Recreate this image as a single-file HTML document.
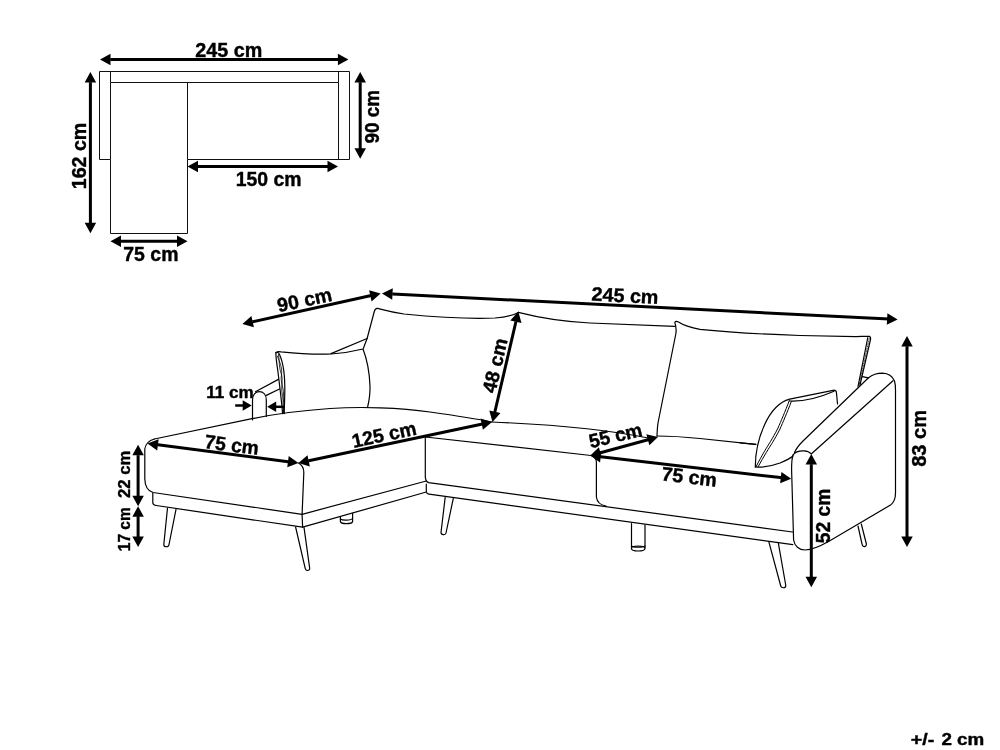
<!DOCTYPE html>
<html><head><meta charset="utf-8"><style>
html,body{margin:0;padding:0;background:#fff;width:1000px;height:750px;overflow:hidden}
svg{display:block;will-change:transform}
text{font-family:"Liberation Sans",sans-serif;font-weight:bold;fill:#000;stroke:#000;stroke-width:0.4px}
</style></head><body>
<svg width="1000" height="750" viewBox="0 0 1000 750">
<g fill="none" stroke="#111" stroke-width="1.0">
<path d="M99.5,71.5 H349.5 V159.5 H187.5 V233.5 H110.5 V159.5 H99.5 Z"/>
<path d="M110.5,159.5 V82.5 H338.5 V159.5 M338.5,82.5 V71.5 M110.5,82.5 V71.5 M187.5,82.5 V159.5"/>
</g>
<line x1="110.50" y1="59.60" x2="339.90" y2="59.60" stroke="#000" stroke-width="3.0"/>
<line x1="108.50" y1="59.60" x2="110.50" y2="59.60" stroke="#000" stroke-width="3.0"/>
<path d="M348.40,59.60 L337.90,65.35 L337.90,53.85 Z M100.00,59.60 L110.50,53.85 L110.50,65.35 Z" fill="#000"/>
<line x1="90.40" y1="82.50" x2="90.40" y2="224.70" stroke="#000" stroke-width="3.0"/>
<line x1="90.40" y1="80.50" x2="90.40" y2="82.50" stroke="#000" stroke-width="3.0"/>
<path d="M90.40,233.20 L84.65,222.70 L96.15,222.70 Z M90.40,72.00 L96.15,82.50 L84.65,82.50 Z" fill="#000"/>
<line x1="360.20" y1="82.50" x2="360.20" y2="150.30" stroke="#000" stroke-width="3.0"/>
<line x1="360.20" y1="80.50" x2="360.20" y2="82.50" stroke="#000" stroke-width="3.0"/>
<path d="M360.20,158.80 L354.45,148.30 L365.95,148.30 Z M360.20,72.00 L365.95,82.50 L354.45,82.50 Z" fill="#000"/>
<line x1="198.00" y1="166.50" x2="329.50" y2="166.50" stroke="#000" stroke-width="3.0"/>
<line x1="196.00" y1="166.50" x2="198.00" y2="166.50" stroke="#000" stroke-width="3.0"/>
<path d="M338.00,166.50 L327.50,172.25 L327.50,160.75 Z M187.50,166.50 L198.00,160.75 L198.00,172.25 Z" fill="#000"/>
<line x1="121.00" y1="241.30" x2="179.00" y2="241.30" stroke="#000" stroke-width="3.0"/>
<line x1="119.00" y1="241.30" x2="121.00" y2="241.30" stroke="#000" stroke-width="3.0"/>
<path d="M187.50,241.30 L177.00,247.05 L177.00,235.55 Z M110.50,241.30 L121.00,235.55 L121.00,247.05 Z" fill="#000"/>
<text x="228.75" y="56.5" font-size="19.5" text-anchor="middle" textLength="67.0" lengthAdjust="spacingAndGlyphs">245 cm</text>
<text x="86" y="156" font-size="19.5" text-anchor="middle" textLength="66.5" lengthAdjust="spacingAndGlyphs" transform="rotate(-90 86 156)">162 cm</text>
<text x="379" y="116.7" font-size="19.5" text-anchor="middle" textLength="53.5" lengthAdjust="spacingAndGlyphs" transform="rotate(-90 379 116.7)">90 cm</text>
<text x="268.7" y="185.7" font-size="19.5" text-anchor="middle" textLength="65.9" lengthAdjust="spacingAndGlyphs">150 cm</text>
<text x="150.9" y="260.5" font-size="19.5" text-anchor="middle" textLength="55.2" lengthAdjust="spacingAndGlyphs">75 cm</text>
<g fill="none" stroke="#000" stroke-width="1.2" stroke-linejoin="round" stroke-linecap="round">
<path d="M154.4,439 L252,418.7 C275,414 300,410.5 330,408.5 C360,406.5 400,407.5 430,412 C455,415.5 475,418.5 492,422"/>
<path d="M154.4,439 C149,440.5 145.5,444 144.8,449 L144.8,479 C145,486 148,491 153,492.5 L302.1,514.3"/>
<path d="M298.4,463 C302,465 304,468 303.8,473 L302.1,514.3"/>
<path d="M302.1,514.3 L426.3,481"/>
<path d="M152.8,493 L152.8,503 C153,504.5 154.5,505.3 156.3,505.5 L302.6,527.2 L302.1,514.3"/>
<path d="M302.6,527.2 L426.3,492"/>
<path d="M340.4,516.7 L340.4,521.5 C341,524.3 352,524.3 352.6,521.5 L352.6,513.4"/>
<path d="M340.4,519 C342,520.5 351,520.5 352.6,518.5"/>
<path d="M167.5,508 L163.8,544.5 C163.8,547.5 168.8,547.5 169,544.5 L176,509.3"/>
<path d="M295.6,527 L305.2,568.3 C305.8,571.2 309.8,571.2 309.7,568.3 L304,527.4"/>
<path d="M445.2,497.3 L441,532.5 C441,535 445.5,535.5 446,533 L453.3,498.3"/>
<path d="M425.4,437 C425.2,438.5 425.3,440 425.3,442 L425.3,476.6 C425.5,480.5 426.5,482 428.6,482.6 L792.5,532"/>
<path d="M426.3,484.2 L426.3,491.5 C426.5,493 427.5,494 429,494.2 L792.8,544.6"/>
<path d="M425.4,437 L591,455.5"/>
<path d="M492,422 C540,424 600,428 648,438"/>
<path d="M591,455.5 C595,457 596.4,459 596.4,462 L596.4,497 C597,502 600,505 606,506"/>
<path d="M657,436 C668,436 680,436.5 700,438.5 L755.5,444.4"/>
<path d="M631.5,523.5 L631.5,548 M645,525 L645,548"/>
<ellipse cx="638.2" cy="548.5" rx="6.8" ry="2.5"/>
<path d="M631.5,546 C633,547.5 643,547.5 645,546"/>
<path d="M768.8,541.6 L780.6,585.5 C781,588.5 785.8,588.5 785.8,585.5 L778.4,543.4"/>
<path d="M858,526 L862,544 C862.5,547.5 866.6,547.5 866.4,544 L861.3,524"/>
<path d="M793,455 C795,452 799,450.6 804,450.8 C807.5,451 810,452.5 811.2,454 L893,380.8"/>
<path d="M793,455 C791.8,458 791.6,462 791.6,470 L793.6,540 C794.5,546 799,550 805,550 C810,550 818,547.5 829,541.3 L890.5,505 C894,502.5 895.5,499 895.5,493 L895.5,390 C895.5,386 895.3,383.5 894.5,381 C892.5,376.5 888,373.4 882.5,373.2 C877,373.2 872,375 868.5,377.8 L803,441 C799,445 796,449 794.5,452.5"/>
<path d="M657,436 C657.2,430 657.5,426 658,423 L675.8,334 C676.5,330 676,326 674.8,322.4 C675.5,321 677,321.2 678.5,322 C683,325 690,327.5 700,329.3 C730,332.5 770,334.5 800,335.5 L856,336.6 C862,336.5 866,336.2 869.2,336.4"/>
<path d="M869.2,336.4 C870.5,336.8 870.8,338 870.5,339.5 L860,385 M867.8,337.5 L858,386.5"/>
<path stroke-width="0.7" stroke-dasharray="1.2 1.3" d="M869.2,338.5 L859,385.5"/>
<path d="M862.3,376.6 L868.5,377.8"/>
<path d="M518.3,312.4 C540,318 560,321.5 590,323 L674.8,326.4"/>
<path d="M518.3,312.4 C513,315.5 508,317 495,318 C470,319 440,317.5 404,314 C390,312 382,309.5 377.5,308.4 C375.5,308.2 374.8,309.5 374.3,311.5 L367.1,338.5 C365.5,343 364,346 363.5,348.4"/>
<path d="M755.3,467 C755.3,440 768,405 789.7,399.2 L833,390.3 C835.5,389.8 836.3,391 836.5,393 L837.5,404"/>
<path d="M789.7,401 C800,401.5 815,399.5 834,391.2"/>
<path stroke-width="1" d="M789.3,400.5 C785,412 781,421 778,428 C775,434 772.5,438 770.4,441.7 C767,447 762,455 756,466.8 M791.3,401.5 C787,413 783,422 780,429 C777,435 774.5,439 772.4,442.7 C769,448 764,456 758,467"/>
<path d="M755.3,467 C762,467.5 772,466 780,463 C786,460.5 790,458.5 793,456"/>
<path d="M740,442.8 L756,444.4"/>
<path d="M276,352.6 C277,351.6 279,351.5 281,351.8 C300,353.8 320,354.5 331,354 C345,353 355,351 363,349 C366.5,358 369.5,373 370,386 C370.3,395 368.8,402 367.6,407.2"/>
<path d="M276,352.6 C277.5,351.8 278.5,352.5 279.5,354.5 C283,362 285,378 284.8,392 C284.7,400 284.3,407 284.2,413.6"/>
<path d="M276,352.6 C275.5,355 276.5,362 278,372 C279.5,385 281.5,400 282.6,413.6"/>
<path stroke-width="0.8" d="M277.2,356 C280,362 282.5,369 281.5,375 C280,381 283.8,388 283.5,394 C283,400 282.5,404 284,413"/>
<path stroke-width="0.8" d="M278.5,354.5 C279.5,361 279,368 281,373 C283.5,380 281,386 282,393 C283.5,400 284.5,404 283.5,413"/>
<path d="M331,353.6 L367.1,338.5"/>
<path d="M252.5,420 L252.5,400 C252.5,395 255.5,391.7 259.2,391.7 C263.5,391.7 266.3,395 266.3,400 L266.3,416.5"/>
<path d="M255.4,391.7 L278.4,379.4"/>
<path d="M266.3,395.4 L279.5,389"/>
</g>
<line x1="252.65" y1="321.74" x2="372.30" y2="295.33" stroke="#000" stroke-width="3.0"/>
<line x1="250.70" y1="322.17" x2="252.65" y2="321.74" stroke="#000" stroke-width="3.0"/>
<path d="M380.60,293.50 L371.59,301.38 L369.11,290.15 Z M242.40,324.00 L251.41,316.12 L253.89,327.35 Z" fill="#000"/>
<line x1="392.49" y1="294.03" x2="889.11" y2="319.07" stroke="#000" stroke-width="3.0"/>
<line x1="390.49" y1="293.93" x2="392.49" y2="294.03" stroke="#000" stroke-width="3.0"/>
<path d="M897.60,319.50 L886.82,324.71 L887.40,313.23 Z M382.00,293.50 L392.78,288.29 L392.20,299.77 Z" fill="#000"/>
<line x1="515.91" y1="321.72" x2="494.43" y2="413.72" stroke="#000" stroke-width="3.0"/>
<line x1="516.37" y1="319.78" x2="515.91" y2="321.72" stroke="#000" stroke-width="3.0"/>
<path d="M492.50,422.00 L489.29,410.47 L500.49,413.08 Z M518.30,311.50 L521.51,323.03 L510.31,320.42 Z" fill="#000"/>
<line x1="235.20" y1="405.50" x2="244.70" y2="405.50" stroke="#000" stroke-width="2.5"/>
<path d="M251.70,405.50 L242.70,410.75 L242.70,400.25 Z" fill="#000"/>
<line x1="284.20" y1="406.80" x2="274.20" y2="406.80" stroke="#000" stroke-width="2.5"/>
<path d="M267.20,406.80 L276.20,401.55 L276.20,412.05 Z" fill="#000"/>
<line x1="157.91" y1="444.85" x2="289.97" y2="461.91" stroke="#000" stroke-width="3.0"/>
<line x1="155.93" y1="444.59" x2="157.91" y2="444.85" stroke="#000" stroke-width="3.0"/>
<path d="M298.40,463.00 L287.25,467.36 L288.72,455.95 Z M147.50,443.50 L158.65,439.14 L157.18,450.55 Z" fill="#000"/>
<line x1="308.67" y1="460.82" x2="483.68" y2="423.76" stroke="#000" stroke-width="3.0"/>
<line x1="306.72" y1="461.24" x2="308.67" y2="460.82" stroke="#000" stroke-width="3.0"/>
<path d="M492.00,422.00 L482.92,429.80 L480.54,418.55 Z M298.40,463.00 L307.48,455.20 L309.86,466.45 Z" fill="#000"/>
<line x1="138.10" y1="455.20" x2="138.10" y2="497.70" stroke="#000" stroke-width="3.0"/>
<line x1="138.10" y1="453.20" x2="138.10" y2="455.20" stroke="#000" stroke-width="3.0"/>
<path d="M138.10,506.20 L132.35,495.70 L143.85,495.70 Z M138.10,444.70 L143.85,455.20 L132.35,455.20 Z" fill="#000"/>
<line x1="138.10" y1="516.70" x2="138.10" y2="538.40" stroke="#000" stroke-width="3.0"/>
<line x1="138.10" y1="514.70" x2="138.10" y2="516.70" stroke="#000" stroke-width="3.0"/>
<path d="M138.10,546.90 L132.35,536.40 L143.85,536.40 Z M138.10,506.20 L143.85,516.70 L132.35,516.70 Z" fill="#000"/>
<line x1="600.43" y1="452.73" x2="649.80" y2="439.24" stroke="#000" stroke-width="3.0"/>
<line x1="598.50" y1="453.26" x2="600.43" y2="452.73" stroke="#000" stroke-width="3.0"/>
<path d="M658.00,437.00 L649.39,445.31 L646.36,434.22 Z M590.30,455.50 L598.91,447.19 L601.94,458.28 Z" fill="#000"/>
<line x1="600.73" y1="456.71" x2="782.76" y2="477.82" stroke="#000" stroke-width="3.0"/>
<line x1="598.74" y1="456.48" x2="600.73" y2="456.71" stroke="#000" stroke-width="3.0"/>
<path d="M791.20,478.80 L780.11,483.30 L781.43,471.88 Z M590.30,455.50 L601.39,451.00 L600.07,462.42 Z" fill="#000"/>
<line x1="811.30" y1="464.50" x2="811.30" y2="578.70" stroke="#000" stroke-width="3.0"/>
<line x1="811.30" y1="462.50" x2="811.30" y2="464.50" stroke="#000" stroke-width="3.0"/>
<path d="M811.30,587.20 L805.55,576.70 L817.05,576.70 Z M811.30,454.00 L817.05,464.50 L805.55,464.50 Z" fill="#000"/>
<line x1="907.00" y1="346.50" x2="907.00" y2="538.50" stroke="#000" stroke-width="3.0"/>
<line x1="907.00" y1="344.50" x2="907.00" y2="346.50" stroke="#000" stroke-width="3.0"/>
<path d="M907.00,547.00 L901.25,536.50 L912.75,536.50 Z M907.00,336.00 L912.75,346.50 L901.25,346.50 Z" fill="#000"/>
<text x="306" y="306.5" font-size="19.5" text-anchor="middle" textLength="55.5" lengthAdjust="spacingAndGlyphs" transform="rotate(-12 306 306.5)">90 cm</text>
<text x="624.7" y="302.3" font-size="19.5" text-anchor="middle" textLength="67.0" lengthAdjust="spacingAndGlyphs" transform="rotate(2.86 624.7 302.3)">245 cm</text>
<text x="501.5" y="367" font-size="19.5" text-anchor="middle" textLength="55.5" lengthAdjust="spacingAndGlyphs" transform="rotate(-76.9 501.5 367)">48 cm</text>
<text x="230" y="397.6" font-size="16" text-anchor="middle" textLength="47.5" lengthAdjust="spacingAndGlyphs">11 cm</text>
<text x="231" y="451.5" font-size="19.5" text-anchor="middle" textLength="54.5" lengthAdjust="spacingAndGlyphs" transform="rotate(7.3 231 451.5)">75 cm</text>
<text x="385.5" y="441.2" font-size="19.5" text-anchor="middle" textLength="65.2" lengthAdjust="spacingAndGlyphs" transform="rotate(-12.2 385.5 441.2)">125 cm</text>
<text x="130.3" y="474.35" font-size="16" text-anchor="middle" textLength="47.2" lengthAdjust="spacingAndGlyphs" transform="rotate(-90 130.3 474.35)">22 cm</text>
<text x="130.3" y="529.2" font-size="16" text-anchor="middle" textLength="44.0" lengthAdjust="spacingAndGlyphs" transform="rotate(-90 130.3 529.2)">17 cm</text>
<text x="617" y="442" font-size="19.5" text-anchor="middle" textLength="54.0" lengthAdjust="spacingAndGlyphs" transform="rotate(-13.2 617 442)">55 cm</text>
<text x="688.5" y="483.5" font-size="19.5" text-anchor="middle" textLength="55.5" lengthAdjust="spacingAndGlyphs" transform="rotate(6.75 688.5 483.5)">75 cm</text>
<text x="830" y="516" font-size="19.5" text-anchor="middle" textLength="54.5" lengthAdjust="spacingAndGlyphs" transform="rotate(-90 830 516)">52 cm</text>
<text x="926" y="438.4" font-size="19.5" text-anchor="middle" textLength="56.9" lengthAdjust="spacingAndGlyphs" transform="rotate(-90 926 438.4)">83 cm</text>
<text x="922.6" y="745" font-size="16" text-anchor="middle" textLength="23.5" lengthAdjust="spacingAndGlyphs">+/-</text>
<text x="962.8" y="745" font-size="16" text-anchor="middle" textLength="42.8" lengthAdjust="spacingAndGlyphs">2 cm</text>
</svg>
</body></html>
